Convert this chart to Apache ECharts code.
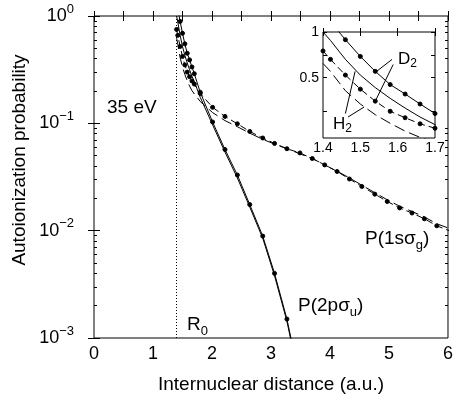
<!DOCTYPE html>
<html><head><meta charset="utf-8">
<script src="https://cdn.jsdelivr.net/npm/echarts@6/dist/echarts.min.js"></script>
<style>html,body{margin:0;padding:0;background:#fff}#c{width:456px;height:403px}</style>
</head><body><div id="c"></div>
<script>
// ---- data ----
const distance = [1.40, 1.42, 1.46, 1.50, 1.54, 1.58, 1.62, 1.66, 1.70, 1.80, 2.01, 2.22, 2.43, 2.64, 2.86, 3.06, 3.27, 3.49, 3.70, 3.91, 4.12, 4.33, 4.54, 4.76, 4.97, 5.18, 5.39, 5.60, 5.81, 6.02];
const d2_2psu = [1.35, 1.17, 0.89, 0.69, 0.55, 0.45, 0.39, 0.335, 0.29, 0.195, 0.103, 0.057, 0.033, 0.0175, 0.0089, 0.0040, 0.0015, 0.0004, null, null, null, null, null, null, null, null, null, null, null, null];
const h2_2psu = [1.0, 0.88, 0.66, 0.52, 0.43, 0.365, 0.315, 0.275, 0.245, 0.175, 0.097, 0.054, 0.031, 0.0166, 0.0085, 0.0038, 0.00143, 0.00038, null, null, null, null, null, null, null, null, null, null, null, null];
const d2_1ssg = [0.75, 0.66, 0.52, 0.42, 0.35, 0.30, 0.272, 0.248, 0.232, 0.19, 0.141, 0.116, 0.099, 0.084, 0.073, 0.065, 0.058, 0.053, 0.047, 0.041, 0.0356, 0.0303, 0.0258, 0.0219, 0.0187, 0.0163, 0.0146, 0.0129, 0.0111, 0.0100];
const h2_1ssg = [0.62, 0.55, 0.41, 0.335, 0.285, 0.25, 0.222, 0.202, 0.188, 0.16, 0.126, 0.106, 0.093, 0.081, 0.071, 0.064, 0.058, 0.052, 0.047, 0.041, 0.0358, 0.031, 0.0265, 0.0226, 0.0194, 0.0169, 0.0151, 0.0134, 0.0116, 0.0105];
const R0 = 1.4;
const mainYMinorTicks = [0.002,0.003,0.004,0.005,0.006,0.007,0.008,0.009,0.02,0.03,0.04,0.05,0.06,0.07,0.08,0.09,0.2,0.3,0.4,0.5,0.6,0.7,0.8,0.9];
const insetYTicks = [0.3, 0.5, 0.7, 1];
const insetYLabels = [0.5, 1];
// inset leader lines [from, to] in inset data coordinates
const d2Leaders = [[[1.585, 0.66], [1.542, 0.546]], [[1.588, 0.61], [1.540, 0.35]]];
const h2Leaders = [[[1.460, 0.29], [1.486, 0.55]], [[1.467, 0.275], [1.51, 0.32]]];

const pairs = vals => distance.map((x, i) => [x, vals[i]]).filter(p => p[1] != null);
const FONT = '"Liberation Sans", Arial, Helvetica, sans-serif';
const chart = echarts.init(document.getElementById('c'), null, {renderer: 'canvas'});

const sup = {fontSize: 13, fontFamily: FONT, color: '#000', padding: [0, 0, 14, 0]};
function decadeLabel(v) {
  const e = Math.round(Math.log10(v));
  return '10{s|' + (e === 0 ? '0' : '\u2212' + (-e)) + '}';
}
const tickBase = {inside: true, lineStyle: {color: '#000', width: 1}};

function mkSeries(vals, xi, yi, style, extra) {
  return Object.assign({
    type: 'line', xAxisIndex: xi, yAxisIndex: yi, data: pairs(vals),
    showSymbol: style.symbol !== 'none', symbol: style.symbol, symbolSize: style.size || 4,
    lineStyle: {color: '#000', width: 1, type: style.dash || 'solid'},
    itemStyle: {color: style.fill || '#000', borderColor: '#000', borderWidth: 1},
    animation: false, silent: true, clip: true, z: 3
  }, extra || {});
}
const styles = {
  d2p: {symbol: 'circle', size: 4, dash: 'solid'},
  h2p: {symbol: 'none', dash: 'solid'},
  d2s: {symbol: 'circle', size: 4, dash: [7, 4]},
  h2s: {symbol: 'none', dash: [11, 5]}
};
const leaderLine = arr => ({
  silent: true, symbol: 'none', animation: false, label: {show: false},
  lineStyle: {color: '#000', width: 1, type: 'solid'},
  data: arr.map(seg => [{coord: seg[0]}, {coord: seg[1]}])
});

const option = {
  backgroundColor: '#fff',
  animation: false,
  grid: [
    {left: 94, top: 16, width: 361, height: 322, show: true, borderColor: '#000', borderWidth: 1, backgroundColor: 'transparent'},
    {left: 323, top: 32, width: 112, height: 106, show: true, borderColor: '#000', borderWidth: 1, backgroundColor: '#fff', z: 5}
  ],
  xAxis: [
    {gridIndex: 0, type: 'value', min: 0, max: 6, interval: 0.5, position: 'bottom',
     axisLine: {show: false}, splitLine: {show: false},
     axisTick: Object.assign({length: 5}, tickBase),
     axisLabel: {margin: 7, fontSize: 18, fontFamily: FONT, color: '#000', showMaxLabel: true,
       formatter: v => Number.isInteger(v) ? String(v) : ''},
     name: 'Internuclear distance (a.u.)', nameLocation: 'middle', nameGap: 37,
     nameTextStyle: {fontSize: 19, fontFamily: FONT, color: '#000'}},
    {gridIndex: 0, type: 'value', min: 0, max: 6, interval: 0.5, position: 'top',
     axisLine: {show: false}, splitLine: {show: false},
     axisTick: Object.assign({length: 5}, tickBase), axisLabel: {show: false}},
    {gridIndex: 1, type: 'value', min: 1.4, max: 1.7, interval: 0.1, position: 'bottom',
     axisLine: {show: false}, splitLine: {show: false},
     axisTick: Object.assign({length: 4}, tickBase),
     axisLabel: {margin: 3, fontSize: 14, fontFamily: FONT, color: '#000', showMinLabel: true, showMaxLabel: true,
       formatter: v => v.toFixed(1)}, z: 6},
    {gridIndex: 1, type: 'value', min: 1.4, max: 1.7, interval: 0.1, position: 'top',
     axisLine: {show: false}, splitLine: {show: false},
     axisTick: Object.assign({length: 4}, tickBase), axisLabel: {show: false}, z: 6}
  ],
  yAxis: [
    {gridIndex: 0, type: 'log', logBase: 10, min: 0.001, max: 1, position: 'left',
     axisLine: {show: false}, splitLine: {show: false},
     axisTick: Object.assign({length: 6}, tickBase),
     axisLabel: {margin: 20, fontSize: 18, fontFamily: FONT, color: '#000', formatter: decadeLabel, rich: {s: sup}}},
    {gridIndex: 0, type: 'log', logBase: 10, min: 0.001, max: 1, position: 'right',
     axisLine: {show: false}, splitLine: {show: false},
     axisTick: Object.assign({length: 6}, tickBase), axisLabel: {show: false}},
    {gridIndex: 0, type: 'value', min: -3, max: 0, position: 'left',
     axisLine: {show: false}, splitLine: {show: false}, axisLabel: {show: false},
     axisTick: Object.assign({length: 3, customValues: mainYMinorTicks.map(Math.log10)}, tickBase)},
    {gridIndex: 0, type: 'value', min: -3, max: 0, position: 'right',
     axisLine: {show: false}, splitLine: {show: false}, axisLabel: {show: false},
     axisTick: Object.assign({length: 3, customValues: mainYMinorTicks.map(Math.log10)}, tickBase)},
    {gridIndex: 1, type: 'log', logBase: 10, min: 0.2, max: 1, position: 'left',
     axisLine: {show: false}, splitLine: {show: false}, axisTick: {show: false}, axisLabel: {show: false}},
    {gridIndex: 1, type: 'value', min: Math.log10(0.2), max: 0, position: 'left',
     axisLine: {show: false}, splitLine: {show: false},
     axisTick: Object.assign({length: 4, customValues: insetYTicks.map(Math.log10)}, tickBase),
     axisLabel: {margin: 4, fontSize: 14, fontFamily: FONT, color: '#000',
       customValues: insetYLabels.map(Math.log10),
       formatter: v => String(+Math.pow(10, v).toFixed(1))}, z: 6},
    {gridIndex: 1, type: 'value', min: Math.log10(0.2), max: 0, position: 'right',
     axisLine: {show: false}, splitLine: {show: false}, axisLabel: {show: false},
     axisTick: Object.assign({length: 4, customValues: insetYTicks.map(Math.log10)}, tickBase), z: 6}
  ],
  series: [
    mkSeries(h2_2psu, 0, 0, styles.h2p),
    mkSeries(h2_1ssg, 0, 0, styles.h2s),
    mkSeries(d2_2psu, 0, 0, styles.d2p, {
      markLine: {silent: true, symbol: 'none', animation: false, label: {show: false},
        lineStyle: {color: '#000', width: 1, type: [1, 2]}, data: [{xAxis: R0}]}}),
    mkSeries(d2_1ssg, 0, 0, styles.d2s),
    mkSeries(h2_2psu, 2, 4, styles.h2p, {z: 7, markLine: Object.assign(leaderLine(h2Leaders), {z: 7})}),
    mkSeries(h2_1ssg, 2, 4, styles.h2s, {z: 7}),
    mkSeries(d2_2psu, 2, 4, styles.d2p, {z: 7, markLine: Object.assign(leaderLine(d2Leaders), {z: 7})}),
    mkSeries(d2_1ssg, 2, 4, styles.d2s, {z: 7})
  ],
  graphic: [
    {type: 'text', x: 20, y: 160, rotation: Math.PI / 2,
     style: {text: 'Autoionization probability', font: '19px ' + FONT, fill: '#000', align: 'center', verticalAlign: 'middle', textAlign: 'center', textVerticalAlign: 'middle'}},
    {type: 'text', x: 107, y: 108,
     style: {text: '35 eV', font: '19px ' + FONT, fill: '#000', align: 'left', verticalAlign: 'middle', textAlign: 'left', textVerticalAlign: 'middle'}},
    {type: 'text', x: 187, y: 325,
     style: {text: 'R{b|0}', font: '19px ' + FONT, fill: '#000', align: 'left', verticalAlign: 'middle',
       rich: {b: {fontSize: 13, fontFamily: FONT, fill: '#000', padding: [12, 0, 0, 0]}}}},
    {type: 'text', x: 365, y: 239,
     style: {text: 'P(1s\u03c3{b|g})', font: '19px ' + FONT, fill: '#000', align: 'left', verticalAlign: 'middle',
       rich: {b: {fontSize: 13, fontFamily: FONT, fill: '#000', padding: [12, 0, 0, 0]}}}},
    {type: 'text', x: 298, y: 306,
     style: {text: 'P(2p\u03c3{b|u})', font: '19px ' + FONT, fill: '#000', align: 'left', verticalAlign: 'middle',
       rich: {b: {fontSize: 13, fontFamily: FONT, fill: '#000', padding: [12, 0, 0, 0]}}}},
    {type: 'text', x: 398, y: 59, z: 20,
     style: {text: 'D{b|2}', font: '17px ' + FONT, fill: '#000', align: 'left', verticalAlign: 'middle',
       rich: {b: {fontSize: 12, fontFamily: FONT, fill: '#000', padding: [10, 0, 0, 0]}}}},
    {type: 'text', x: 333, y: 124, z: 20,
     style: {text: 'H{b|2}', font: '17px ' + FONT, fill: '#000', align: 'left', verticalAlign: 'middle',
       rich: {b: {fontSize: 12, fontFamily: FONT, fill: '#000', padding: [10, 0, 0, 0]}}}}
  ]
};
chart.setOption(option);
</script>
</body></html>
